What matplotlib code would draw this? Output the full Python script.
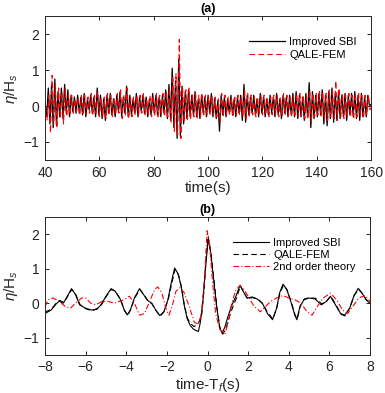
import matplotlib
matplotlib.use("Agg")
import matplotlib.pyplot as plt
import numpy as np

plt.rcParams['font.family'] = ['Liberation Sans', 'DejaVu Sans']
plt.rcParams['mathtext.fontset'] = 'custom'
plt.rcParams['mathtext.rm'] = 'Liberation Sans'
plt.rcParams['mathtext.it'] = 'Liberation Sans:italic'

# ---- panel (a): wave record, extrema read every 0.6 s from 40 to 160 s ----
time_a = np.linspace(40, 160, 201)

sbi_a = [0.1, -0.3, 0.5, -0.5, 0.6, -0.6, 0.75, -0.55, 0.4, -0.3,
         0.5, -0.35, 0.6, -0.2, 0.45, -0.3, 0.3, -0.15, 0.25, -0.2,
         0.3, -0.2, 0.25, -0.25, 0.35, -0.3, 0.2, -0.1, 0.3, -0.2,
         0.25, -0.3, 0.5, -0.25, 0.3, -0.35, 0.2, -0.4, 0.3, -0.2,
         0.35, -0.25, 0.2, -0.3, 0.3, -0.15, 0.4, -0.3, 0.25, -0.2,
         0.55, -0.3, 0.3, -0.25, 0.2, -0.2, 0.35, -0.3, 0.25, -0.15,
         0.3, -0.2, 0.25, -0.3, 0.2, -0.25, 0.35, -0.2, 0.3, -0.25,
         0.25, -0.3, 0.3, -0.2, 0.45, -0.35, 0.6, -0.4, 1.05, -0.6,
         0.7, -0.9, 1.3, -0.85, 0.55, -0.5, 0.4, -0.35, 0.45, -0.3,
         0.3, -0.25, 0.4, -0.3, 0.2, -0.35, 0.3, -0.2, 0.25, -0.3,
         0.3, -0.2, 0.35, -0.3, 0.2, -0.35, 0.15, -0.7, 0.3, -0.25,
         0.25, -0.3, 0.2, -0.2, 0.3, -0.25, 0.2, -0.3, 0.25, -0.2,
         0.3, -0.4, 0.6, -0.45, 0.3, -0.25, 0.25, -0.2, 0.3, -0.25,
         0.2, -0.3, 0.35, -0.2, 0.25, -0.3, 0.2, -0.25, 0.3, -0.2,
         0.25, -0.3, 0.35, -0.25, 0.2, -0.35, 0.3, -0.2, 0.25, -0.3,
         0.3, -0.25, 0.35, -0.3, 0.4, -0.35, 0.3, -0.3, 0.25, -0.4,
         0.35, -0.3, 0.65, -0.6, 0.4, -0.35, 0.3, -0.3, 0.35, -0.25,
         0.45, -0.5, 0.3, -0.55, 0.4, -0.35, 0.5, -0.45, 0.35, -0.4,
         0.4, -0.35, 0.3, -0.3, 0.35, -0.4, 0.3, -0.25, 0.35, -0.3,
         0.4, -0.35, 0.3, -0.4, 0.35, -0.3, 0.25, -0.3, 0.3, 0.0,
         0.05]

qale_a = [0.0, -0.4, 0.3, -0.75, 0.85, -0.5, 0.6, -0.6, 0.5, -0.35,
          0.4, -0.5, 0.5, -0.3, 0.35, -0.25, 0.3, -0.2, 0.2, -0.15,
          0.25, -0.25, 0.3, -0.2, 0.3, -0.25, 0.25, -0.2, 0.35, -0.25,
          0.3, -0.2, 0.4, -0.3, 0.25, -0.3, 0.25, -0.35, 0.35, -0.25,
          0.3, -0.3, 0.25, -0.25, 0.35, -0.2, 0.45, -0.35, 0.3, -0.25,
          0.5, -0.35, 0.25, -0.3, 0.25, -0.25, 0.3, -0.25, 0.3, -0.2,
          0.35, -0.25, 0.2, -0.25, 0.3, -0.3, 0.3, -0.25, 0.35, -0.3,
          0.3, -0.25, 0.35, -0.3, 0.4, -0.3, 0.5, -0.45, 0.85, -0.7,
          0.9, -0.8, 1.85, -0.9, 0.5, -0.45, 0.45, -0.4, 0.5, -0.35,
          0.35, -0.3, 0.35, -0.35, 0.3, -0.3, 0.35, -0.25, 0.3, -0.25,
          0.25, -0.25, 0.3, -0.25, 0.25, -0.3, 0.2, -0.45, 0.35, -0.3,
          0.3, -0.25, 0.25, -0.25, 0.25, -0.3, 0.25, -0.25, 0.3, -0.25,
          0.25, -0.3, 0.45, -0.35, 0.35, -0.3, 0.3, -0.25, 0.25, -0.3,
          0.25, -0.25, 0.3, -0.25, 0.3, -0.25, 0.25, -0.3, 0.25, -0.25,
          0.3, -0.25, 0.3, -0.3, 0.25, -0.3, 0.35, -0.25, 0.3, -0.25,
          0.25, -0.3, 0.3, -0.25, 0.35, -0.3, 0.35, -0.25, 0.3, -0.35,
          0.3, -0.35, 0.45, -0.45, 0.35, -0.3, 0.35, -0.25, 0.4, -0.3,
          0.4, -0.4, 0.35, -0.4, 0.45, -0.3, 0.4, -0.35, 0.7, -0.4,
          0.5, -0.3, 0.35, -0.35, 0.3, -0.3, 0.35, -0.3, 0.3, -0.35,
          0.35, -0.3, 0.35, -0.3, 0.3, -0.35, 0.3, -0.25, 0.3, -0.1,
          0.05]

# ---- panel (b): zoom around the focusing time ----
sbi_t = [-8.0, -7.7, -7.45, -7.3, -7.1, -6.9, -6.7, -6.5, -6.3, -6.0,
         -5.7, -5.45, -5.25, -5.0, -4.75, -4.55, -4.3, -4.1, -3.95, -3.8,
         -3.6, -3.35, -3.15, -2.95, -2.75, -2.55, -2.35, -2.15, -1.95, -1.8,
         -1.62, -1.45, -1.3, -1.15, -1.0, -0.85, -0.7, -0.55, -0.45, -0.35,
         -0.22, -0.1, 0.03, 0.15, 0.3, 0.45, 0.6, 0.72, 0.85, 1.0,
         1.2, 1.4, 1.6, 1.75, 1.95, 2.2, 2.45, 2.7, 2.95, 3.2,
         3.4, 3.55, 3.72, 3.9, 4.1, 4.3, 4.4, 4.55, 4.75, 5.0,
         5.3, 5.6, 5.85, 6.05, 6.3, 6.55, 6.75, 7.0, 7.2, 7.42,
         7.6, 7.8, 8.0]
sbi_y = [-0.3, -0.2, -0.02, 0.06, 0.0, 0.2, 0.42, 0.25, -0.05, -0.15,
         -0.2, -0.18, -0.05, 0.2, 0.42, 0.35, 0.12, -0.2, -0.34, -0.2,
         0.15, 0.42, 0.25, 0.08, 0.0, -0.2, -0.36, -0.25, 0.1, 0.55,
         1.02, 0.85, 0.5, -0.05, -0.45, -0.65, -0.75, -0.8, -0.82, -0.55,
         0.1, 1.0, 1.85, 1.5, 0.7, -0.1, -0.7, -0.87, -0.7, -0.4,
         -0.05, 0.2, 0.52, 0.35, 0.15, 0.18, 0.12, 0.0, -0.3, -0.48,
         -0.15, 0.3, 0.55, 0.4, 0.05, -0.35, -0.48, -0.1, 0.1, 0.15,
         0.12, -0.05, 0.05, 0.2, -0.05, -0.3, -0.35, -0.15, 0.2, 0.43,
         0.3, 0.1, 0.0]

qale_t = [-8.0, -7.7, -7.45, -7.28, -7.08, -6.88, -6.68, -6.48, -6.28, -6.0,
          -5.7, -5.45, -5.22, -4.98, -4.73, -4.53, -4.28, -4.08, -3.93, -3.78,
          -3.58, -3.33, -3.13, -2.93, -2.73, -2.53, -2.33, -2.13, -1.93, -1.78,
          -1.6, -1.43, -1.28, -1.13, -0.98, -0.82, -0.66, -0.5, -0.38, -0.28,
          -0.17, -0.07, 0.03, 0.17, 0.33, 0.48, 0.62, 0.75, 0.9, 1.05,
          1.25, 1.45, 1.62, 1.78, 1.98, 2.22, 2.48, 2.72, 2.97, 3.22,
          3.42, 3.57, 3.74, 3.92, 4.12, 4.32, 4.42, 4.57, 4.77, 5.02,
          5.32, 5.62, 5.87, 6.07, 6.32, 6.57, 6.77, 7.02, 7.22, 7.44,
          7.62, 7.82, 8.0]
qale_y = [-0.26, -0.18, 0.0, 0.08, 0.02, 0.2, 0.4, 0.24, -0.04, -0.16,
          -0.22, -0.16, -0.04, 0.2, 0.4, 0.34, 0.1, -0.22, -0.36, -0.18,
          0.15, 0.4, 0.24, 0.06, -0.02, -0.22, -0.38, -0.24, 0.12, 0.52,
          0.98, 0.82, 0.45, -0.1, -0.45, -0.6, -0.68, -0.62, -0.5, -0.3,
          0.4, 1.3, 1.95, 1.45, 0.6, -0.2, -0.75, -0.9, -0.75, -0.45,
          -0.1, 0.18, 0.5, 0.32, 0.12, 0.16, 0.12, -0.02, -0.28, -0.46,
          -0.12, 0.3, 0.52, 0.38, 0.04, -0.36, -0.45, -0.08, 0.12, 0.16,
          0.14, -0.02, 0.06, 0.2, -0.04, -0.32, -0.37, -0.12, 0.22, 0.4,
          0.28, 0.1, 0.02]

theory_t = [-8.0, -7.85, -7.6, -7.3, -7.0, -6.75, -6.5, -6.2, -6.0, -5.75,
            -5.5, -5.2, -4.9, -4.6, -4.35, -4.1, -3.85, -3.6, -3.35, -3.1,
            -2.85, -2.6, -2.45, -2.25, -2.05, -1.9, -1.75, -1.55, -1.35, -1.15,
            -0.9, -0.65, -0.45, -0.3, -0.15, -0.02, 0.1, 0.25, 0.4, 0.6,
            0.85, 1.0, 1.2, 1.4, 1.6, 1.8, 2.05, 2.3, 2.6, 2.85,
            3.1, 3.4, 3.72, 4.0, 4.3, 4.6, 4.9, 5.15, 5.4, 5.7,
            6.05, 6.35, 6.65, 6.9, 7.15, 7.45, 7.75, 8.0]
theory_y = [-0.1, 0.1, 0.15, 0.05, -0.1, -0.15, 0.0, 0.15, 0.15, 0.0,
            -0.05, 0.05, 0.05, 0.0, 0.05, 0.1, 0.2, 0.0, -0.35, -0.3,
            0.05, 0.4, 0.47, 0.3, -0.15, -0.35, -0.1, 0.35, 0.45, 0.3,
            -0.1, -0.55, -0.62, -0.3, 0.7, 2.1, 1.7, 0.6, -0.3, -0.75,
            -0.9, -0.6, 0.0, 0.4, 0.5, 0.4, 0.15, -0.1, -0.25, -0.1,
            0.05, 0.15, 0.22, 0.15, 0.1, 0.0, -0.25, -0.35, -0.1, 0.15,
            0.29, 0.1, -0.2, -0.3, -0.1, 0.15, 0.22, 0.05]

fig = plt.figure(figsize=(3.85, 3.93), dpi=100)
ax1 = fig.add_axes([0.117, 0.593, 0.847, 0.366])
ax2 = fig.add_axes([0.117, 0.097, 0.844, 0.351])

gray = '#262626'

ax1.plot(time_a, sbi_a, color='black', lw=0.9, label='Improved SBI')
ax1.plot(time_a + 0.2, qale_a, color='red', lw=0.8, dashes=(5, 3), label='QALE-FEM')
ax1.set_xlim(40, 160)
ax1.set_xticks([40, 60, 80, 100, 120, 140, 160])
ax1.set_xlabel('time(s)', fontsize=11, color=gray, labelpad=1)
ax1.set_title('(a)', fontsize=9, fontweight='bold', pad=3)

ax2.plot(sbi_t, sbi_y, color='black', lw=0.8, label='Improved SBI')
ax2.plot(qale_t, qale_y, color='black', lw=0.8, dashes=(5, 3), label='QALE-FEM')
ax2.plot(theory_t, theory_y, color='red', lw=0.8, dashes=(5, 2, 1, 2), label='2nd order theory')
ax2.set_xlim(-8, 8)
ax2.set_xticks([-8, -6, -4, -2, 0, 2, 4, 6, 8])
ax2.set_xlabel('time-T$_f$(s)', fontsize=11, color=gray, labelpad=1)
ax2.set_title('(b)', fontsize=9, fontweight='bold', pad=3)

for ax in (ax1, ax2):
    ax.set_ylim(-1.5, 2.5)
    ax.set_yticks([-1, 0, 1, 2])
    ax.set_ylabel(r'$\eta$/H$_s$', fontsize=11, color=gray, labelpad=3)
    ax.tick_params(direction='in', top=True, right=True, labelsize=10,
                   labelcolor=gray, length=3, width=0.6, pad=4)
    for s in ax.spines.values():
        s.set_linewidth(0.7)
        s.set_color(gray)
    ax.legend(loc='upper right', frameon=False, fontsize=8, handlelength=3.2,
              handletextpad=0.4, labelspacing=0.2, borderaxespad=0.6,
              bbox_to_anchor=(0.99, 0.93))

fig.savefig('out.png', dpi=100)
